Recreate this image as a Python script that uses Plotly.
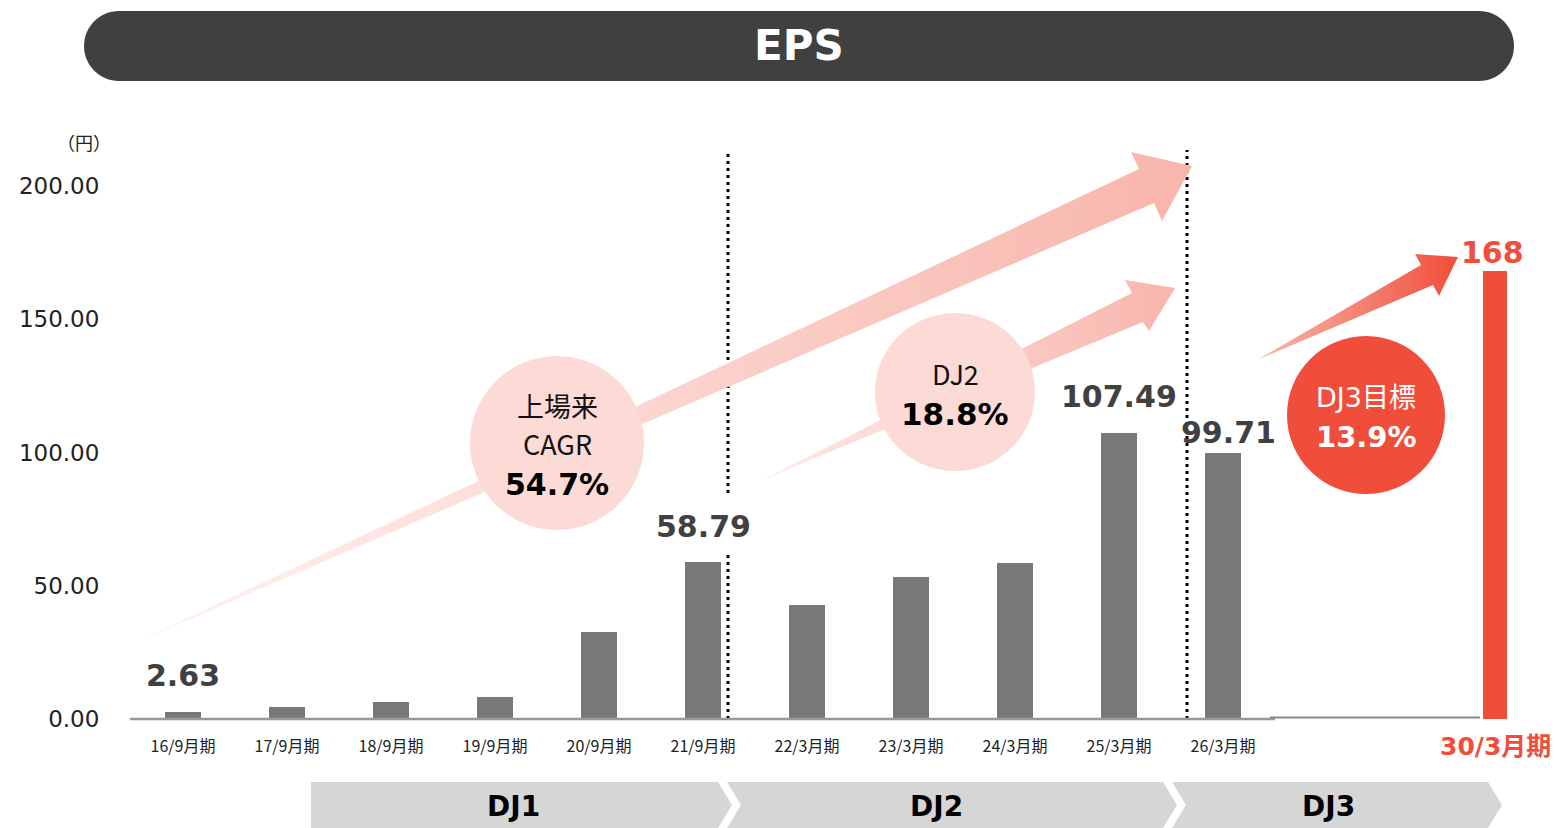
import plotly.graph_objects as go

# ---------------- data ----------------
categories = ["16/9月期", "17/9月期", "18/9月期", "19/9月期", "20/9月期", "21/9月期",
              "22/3月期", "23/3月期", "24/3月期", "25/3月期", "26/3月期"]
eps = [2.63, 4.4, 6.3, 8.1, 32.5, 58.79, 42.8, 53.2, 58.7, 107.49, 99.71]
labeled_idx = [0, 5, 9, 10]
target_category = "30/3月期"
target_eps = 168
y_ticks = [0, 50, 100, 150, 200]
phases = ["DJ1", "DJ2", "DJ3"]
cagr_listing = 54.7
cagr_dj2 = 18.8
cagr_dj3_target = 13.9

# ---------------- layout geometry ----------------
W, H = 1559, 828
L, R, T, B = 130, 0, 0, 107
PW, PH = W - L - R, H - T - B
X0PX, XSTEP = 183, 104          # pixel of first category, pixel per category
Y0PX, YK = 719, 2.665            # pixel of y=0, pixel per unit
xr = [(L - X0PX) / XSTEP, (W - R - X0PX) / XSTEP]
yr = [-(H - B - Y0PX) / YK, (Y0PX - T) / YK]

def dx(px):
    return xr[0] + (px - L) / PW * (xr[1] - xr[0])

def dy(py):
    return yr[0] + (H - B - py) / PH * (yr[1] - yr[0])

def pxp(px):
    return (px - L) / PW

def pyp(py):
    return (H - B - py) / PH

def P(px, py):
    return f"{pxp(px):.5f},{pyp(py):.5f}"

RED = "#f04e3a"
BAR = "#787878"
LABEL = "#404040"
x_pos = list(range(len(categories)))
target_pos = dx(1495)

fig = go.Figure()

# ---------------- gradient arrows (decoration) ----------------
def arrow(pts, c0, c1):
    xs = [dx(p[0]) for p in pts] + [dx(pts[0][0])]
    ys = [dy(p[1]) for p in pts] + [dy(pts[0][1])]
    fig.add_trace(go.Scatter(x=xs, y=ys, mode="lines", line=dict(width=0, color=c1),
                             fill="toself",
                             fillgradient=dict(type="horizontal", colorscale=[[0, c0], [1, c1]]),
                             hoverinfo="skip", showlegend=False))

arrow([(135, 643), (1139, 169), (1131, 152), (1192, 166), (1162, 221), (1154, 203)], "#fff3f1", "#f8b5ab")
arrow([(762, 480), (1132, 293), (1125, 280), (1175, 288), (1149, 331), (1143, 322)], "#fdebe8", "#f8b5ab")
arrow([(1257, 360), (1421, 265), (1415, 254), (1458, 257), (1439, 296), (1433, 285)], "#f8b8ab", RED)

# ---------------- bars ----------------
fig.add_trace(go.Bar(
    x=x_pos + [target_pos], y=eps + [target_eps],
    width=[0.337] * len(categories) + [0.23],
    marker=dict(color=[BAR] * len(categories) + [RED], line=dict(width=0)),
    hoverinfo="skip", showlegend=False))

shapes = []
# dotted period separators (first one interrupted behind the 58.79 label)
for px, segs in ((728, [(150, 493), (555, 719)]), (1187, [(150, 719)])):
    for top, bot in segs:
        shapes.append(dict(type="line", xref="x", yref="y", x0=dx(px), x1=dx(px),
                           y0=dy(bot), y1=dy(top),
                           line=dict(color="#000000", width=3, dash="3px,4px"), layer="below"))
# axis lines
shapes.append(dict(type="line", xref="x", yref="y", x0=xr[0], x1=dx(1275), y0=0, y1=0,
                   line=dict(color="#999999", width=2.5), layer="above"))
shapes.append(dict(type="line", xref="x", yref="y", x0=dx(1270), x1=dx(1480), y0=dy(717.5), y1=dy(717.5),
                   line=dict(color="#888888", width=2), layer="above"))

# title bar (rounded)
k = 0.5523
x1, x2, yt, yb, r = 84, 1514, 11, 81, 35
ym = (yt + yb) / 2
path = (f"M{P(x1 + r, yt)} L{P(x2 - r, yt)} "
        f"C{P(x2 - r + r * k, yt)} {P(x2, ym - r * k)} {P(x2, ym)} "
        f"C{P(x2, ym + r * k)} {P(x2 - r + r * k, yb)} {P(x2 - r, yb)} "
        f"L{P(x1 + r, yb)} "
        f"C{P(x1 + r - r * k, yb)} {P(x1, ym + r * k)} {P(x1, ym)} "
        f"C{P(x1, ym - r * k)} {P(x1 + r - r * k, yt)} {P(x1 + r, yt)} Z")
shapes.append(dict(type="path", xref="paper", yref="paper", path=path,
                   fillcolor="#404040", line=dict(width=0)))

# chevrons
chev_col = "#d6d6d6"
chevs = [
    [(311, 782), (718, 782), (732, 805), (718, 828), (311, 828)],
    [(727, 782), (1163, 782), (1177, 805), (1163, 828), (727, 828), (741, 805)],
    [(1172, 782), (1488, 782), (1502, 805), (1488, 828), (1172, 828), (1186, 805)],
]
for pts in chevs:
    p = "M" + " L".join(P(a, b) for a, b in pts) + " Z"
    shapes.append(dict(type="path", xref="paper", yref="paper", path=p,
                       fillcolor=chev_col, line=dict(width=0)))

# circles
def circle(cx, cy, rx, ry, col):
    shapes.append(dict(type="circle", xref="paper", yref="paper",
                       x0=pxp(cx - rx), x1=pxp(cx + rx), y0=pyp(cy + ry), y1=pyp(cy - ry),
                       fillcolor=col, line=dict(width=0), layer="above"))

circle(557, 443, 87, 87, "#fcdad6")
circle(955, 392, 80, 79, "#fcdad6")
circle(1366, 415, 79, 79, RED)

annos = []

def txt(s, px, py, size, color="#111111", bold=False, family="DejaVu Sans, Noto Sans CJK JP"):
    annos.append(dict(text=s, xref="paper", yref="paper", x=pxp(px), y=pyp(py),
                      xanchor="center", yanchor="middle", showarrow=False,
                      font=dict(size=size, color=color, family=family,
                                weight="bold" if bold else "normal")))

txt("EPS", 799, 46, 42, "#ffffff", True)
txt("（円）", 84, 142, 18, "#222222", family="Noto Sans CJK JP")

txt("上場来", 557, 405, 27, family="Noto Sans CJK JP")
txt("CAGR", 557, 444, 27, family="Noto Sans CJK JP")
txt(f"{cagr_listing:.1f}%", 557, 485, 30, "#000000", True)
txt("DJ2", 955, 373, 27, family="Noto Sans CJK JP")
txt(f"{cagr_dj2:.1f}%", 955, 414, 31, "#000000", True)
txt("DJ3目標", 1366, 397, 27, "#ffffff", family="DejaVu Sans, Noto Sans CJK JP")
txt(f"{cagr_dj3_target:.1f}%", 1366, 437, 29, "#ffffff", True)

for name, cx in zip(phases, (513, 937, 1328)):
    txt(name, cx, 806, 28, "#000000", True)

# value labels
for i in labeled_idx:
    shift = (5, 21) if i == len(eps) - 1 else (0, 36)
    annos.append(dict(text=f"{eps[i]:.2f}", xref="x", yref="y", x=x_pos[i], y=eps[i],
                      xanchor="center", yanchor="middle", showarrow=False,
                      xshift=shift[0], yshift=shift[1],
                      font=dict(size=30, color=LABEL, family="DejaVu Sans", weight="bold")))
annos.append(dict(text=f"{target_eps:.0f}", xref="x", yref="y", x=target_pos, y=target_eps,
                  xanchor="center", yanchor="middle", showarrow=False, xshift=-3, yshift=19,
                  font=dict(size=30, color=RED, family="DejaVu Sans", weight="bold")))
annos.append(dict(text=target_category, xref="x", yref="paper", x=target_pos, y=pyp(746),
                  xanchor="center", yanchor="middle", showarrow=False,
                  font=dict(size=25, color=RED, family="DejaVu Sans, Noto Sans CJK JP", weight="bold")))

fig.update_layout(
    width=W, height=H,
    margin=dict(l=L, r=R, t=T, b=B, pad=0),
    paper_bgcolor="white", plot_bgcolor="white",
    shapes=shapes, annotations=annos, showlegend=False, bargap=0,
    xaxis=dict(range=xr, tickvals=x_pos, ticktext=categories, showgrid=False, zeroline=False,
               showline=False, ticks="outside", ticklen=11, tickcolor="rgba(0,0,0,0)",
               tickfont=dict(size=16, color="#222222", family="Noto Sans CJK JP"), fixedrange=True),
    yaxis=dict(range=yr, tickvals=y_ticks, tickformat=".2f", showgrid=False, zeroline=False,
               showline=False, ticks="outside", ticklen=25, tickcolor="rgba(0,0,0,0)",
               tickfont=dict(size=23, color="#222222", family="DejaVu Sans"), fixedrange=True),
)

fig.write_html("out.html", config={"displayModeBar": False},
               post_script="document.body.style.margin='0';document.body.style.overflow='hidden';")
